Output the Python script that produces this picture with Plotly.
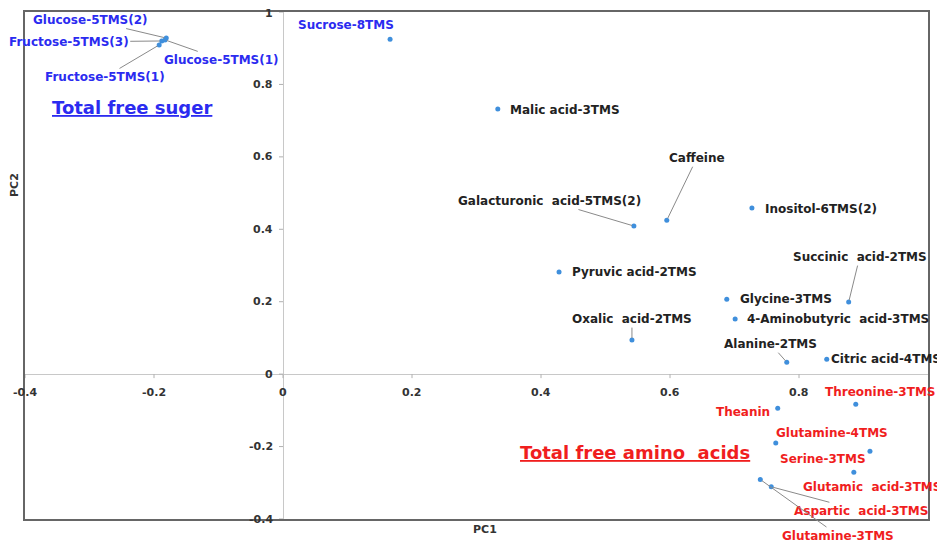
import plotly.graph_objects as go

# ---- data ----
names = [
    "Glucose-5TMS(2)", "Fructose-5TMS(3)", "Glucose-5TMS(1)", "Fructose-5TMS(1)",
    "Sucrose-8TMS", "Malic acid-3TMS", "Caffeine", "Galacturonic  acid-5TMS(2)",
    "Inositol-6TMS(2)", "Pyruvic acid-2TMS", "Oxalic  acid-2TMS", "Glycine-3TMS",
    "4-Aminobutyric  acid-3TMS", "Succinic  acid-2TMS", "Alanine-2TMS", "Citric acid-4TMS",
    "Threonine-3TMS", "Theanin", "Glutamine-4TMS", "Serine-3TMS",
    "Glutamic  acid-3TMS", "Aspartic  acid-3TMS", "Glutamine-3TMS",
]
pc1 = [-0.181, -0.188, -0.183, -0.192,
       0.166, 0.333, 0.595, 0.544,
       0.727, 0.428, 0.541, 0.688,
       0.701, 0.877, 0.781, 0.843,
       0.888, 0.767, 0.764, 0.910,
       0.885, 0.757, 0.740]
pc2 = [0.928, 0.920, 0.923, 0.909,
       0.925, 0.732, 0.425, 0.409,
       0.459, 0.282, 0.094, 0.207,
       0.152, 0.199, 0.033, 0.041,
       -0.083, -0.094, -0.190, -0.213,
       -0.271, -0.311, -0.291]
group = ["sugar"] * 5 + ["other"] * 11 + ["amino"] * 7

x_ticks = [-0.4, -0.2, 0, 0.2, 0.4, 0.6, 0.8]
y_ticks = [-0.4, -0.2, 0, 0.2, 0.4, 0.6, 0.8, 1]

# ---- label placement (pixel offsets of label centre from point, leader line flag) ----
label_offsets = {
    "Glucose-5TMS(2)": (-76, -18, True),
    "Fructose-5TMS(3)": (-93, 1, True),
    "Glucose-5TMS(1)": (57, 20, True),
    "Fructose-5TMS(1)": (-54, 32, True),
    "Sucrose-8TMS": (-44, -14, False),
    "Malic acid-3TMS": (67, 1, False),
    "Caffeine": (30, -62, True),
    "Galacturonic  acid-5TMS(2)": (-84, -25, True),
    "Inositol-6TMS(2)": (69, 1, False),
    "Pyruvic acid-2TMS": (75, 0, False),
    "Oxalic  acid-2TMS": (0, -21, True),
    "Glycine-3TMS": (59, 0, False),
    "4-Aminobutyric  acid-3TMS": (103, 0, False),
    "Succinic  acid-2TMS": (11, -45, True),
    "Alanine-2TMS": (-16, -18, True),
    "Citric acid-4TMS": (59, 0, False),
    "Threonine-3TMS": (24, -12, False),
    "Theanin": (-35, 4, False),
    "Glutamine-4TMS": (56, -10, False),
    "Serine-3TMS": (-47, 8, False),
    "Glutamic  acid-3TMS": (18, 15, False),
    "Aspartic  acid-3TMS": (90, 24, True),
    "Glutamine-3TMS": (78, 56, True),
}

colors = {"sugar": "#2b2bf0", "other": "#222222", "amino": "#f01e1e"}
FONT = "DejaVu Sans, Liberation Sans, Arial, sans-serif"

fig = go.Figure()
fig.add_trace(go.Scatter(
    x=pc1, y=pc2, mode="markers",
    marker=dict(color="#3f8fdc", size=5),
    hoverinfo="text", text=names, showlegend=False,
))

annotations = []
for n, x, y, g in zip(names, pc1, pc2, group):
    dx, dy, line = label_offsets[n]
    a = dict(x=x, y=y, xref="x", yref="y", text="<b>" + n + "</b>",
             font=dict(family=FONT, size=12, color=colors[g]))
    if line:
        a.update(showarrow=True, ax=dx, ay=dy, arrowhead=0, arrowwidth=1,
                 arrowcolor="#8a8a8a", standoff=2)
    else:
        a.update(showarrow=False, xshift=dx, yshift=-dy)
    annotations.append(a)

shapes = []
for t in x_ticks:
    annotations.append(dict(x=t, y=0, xref="x", yref="y", showarrow=False,
                            text="<b>" + ("%g" % t) + "</b>", yshift=-18,
                            font=dict(family=FONT, size=11, color="#333333")))
    shapes.append(dict(type="line", xref="x", yref="y", x0=t, x1=t,
                       ysizemode="pixel", yanchor=0, y0=-4, y1=0,
                       line=dict(color="#b0b0b0", width=1)))
for t in y_ticks:
    annotations.append(dict(x=0, y=t, xref="x", yref="y", showarrow=False,
                            text="<b>" + ("%g" % t) + "</b>", xanchor="right", xshift=-8,
                            yshift=-1 if t == 1 else 0,
                            font=dict(family=FONT, size=11, color="#333333")))
    shapes.append(dict(type="line", xref="x", yref="y", y0=t, y1=t,
                       xsizemode="pixel", xanchor=0, x0=-4, x1=0,
                       line=dict(color="#b0b0b0", width=1)))

annotations += [
    dict(x=0.118, y=0.811, xref="paper", yref="paper", showarrow=False,
         xanchor="center", yanchor="middle",
         text="<b><u>Total free suger</u></b>",
         font=dict(family=FONT, size=18, color="#2b2bf0")),
    dict(x=0.676, y=0.132, xref="paper", yref="paper", showarrow=False,
         xanchor="center", yanchor="middle",
         text="<b><u>Total free amino  acids</u></b>",
         font=dict(family=FONT, size=18, color="#f01e1e")),
    dict(x=0.509, y=0.0, xref="paper", yref="paper", showarrow=False,
         xanchor="center", yanchor="middle", yshift=-10,
         text="<b>PC1</b>", font=dict(family=FONT, size=11, color="#333333")),
    dict(x=-0.011, y=0.659, xref="paper", yref="paper", showarrow=False,
         xanchor="center", yanchor="middle",
         text="<b>PC2</b>", textangle=-90,
         font=dict(family=FONT, size=11, color="#333333")),
]

fig.update_layout(
    width=937, height=535,
    margin=dict(l=17, r=17, t=4, b=24, autoexpand=False),
    paper_bgcolor="white", plot_bgcolor="white",
    annotations=annotations,
    shapes=shapes,
    xaxis=dict(range=[-0.4, 1.0], showgrid=False, showticklabels=False, ticks="",
               zeroline=True, zerolinecolor="#c8c8c8", zerolinewidth=1,
               showline=True, mirror=True, linecolor="#666666", linewidth=2),
    yaxis=dict(range=[-0.4, 1.0], showgrid=False, showticklabels=False, ticks="",
               zeroline=True, zerolinecolor="#c8c8c8", zerolinewidth=1,
               showline=True, mirror=True, linecolor="#666666", linewidth=2),
)

fig.write_html("out.html")
